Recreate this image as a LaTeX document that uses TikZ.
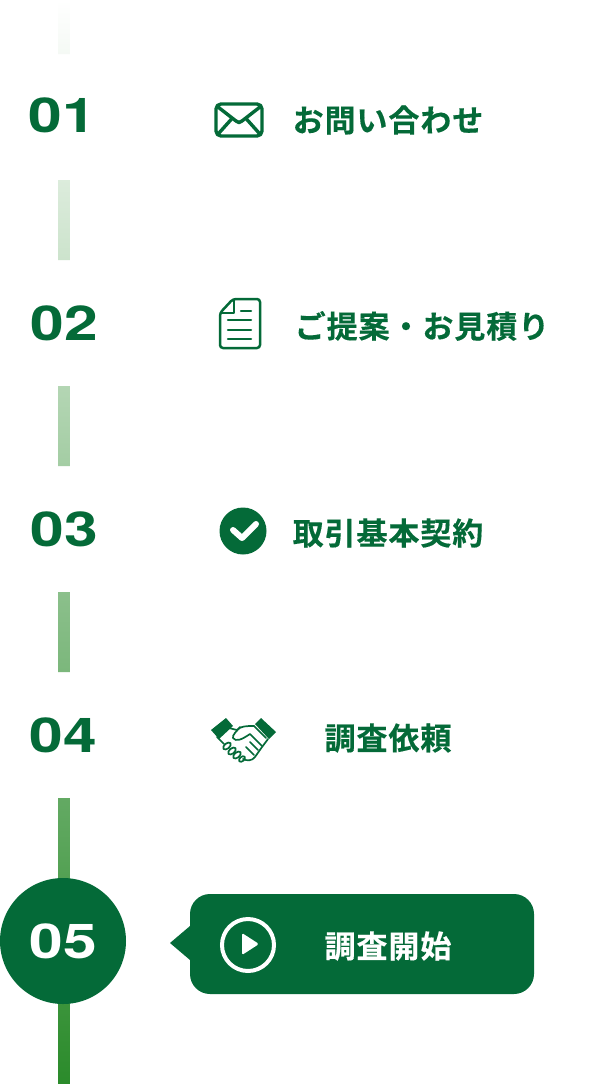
\documentclass[tikz,border=0pt]{standalone}
\usepackage{fontspec}
\setmainfont{Noto Sans CJK JP Bold}
\newfontfamily\cjkb[LetterSpace=3,FakeBold=0.35]{Noto Sans CJK JP Bold}
\newfontfamily\numf{TeX Gyre Heros Bold}
\definecolor{brand}{HTML}{046A38}
\definecolor{linetop}{HTML}{FFFFFF}
\definecolor{linebot}{HTML}{2B8B2B}
\tikzset{
  x=1pt,y=-1pt,
  steplabel/.style={anchor=center,inner sep=0pt,text=brand,font=\cjkb\fontsize{31}{31}\selectfont},
  stepnum/.style={anchor=center,inner sep=0pt,text=brand,font=\numf\fontsize{48}{48}\selectfont,xscale=1.26},
  icon/.style={draw=brand,line width=3.4pt,line join=round,line cap=round},
  thinicon/.style={draw=brand,line width=2.5pt,line join=round,line cap=round},
  hand/.style={draw=brand,line width=1.7pt,line join=round,line cap=round}
}
\begin{document}
\begin{tikzpicture}
\useasboundingbox (0,0) rectangle (604,1084);
\fill[white] (0,0) rectangle (604,1084);
\begin{scope}
\clip (58,0) rectangle (70,54) (58,180) rectangle (70,260) (58,386) rectangle (70,466) (58,592) rectangle (70,672) (58,798) rectangle (70,1084);
\shade[top color=linetop,bottom color=linebot] (58,0) rectangle (70,1084);
\end{scope}
\node[stepnum] (n1) at (62.5,115.5) {01};
\node[stepnum] (n2) at (64,323.5) {02};
\node[stepnum] (n3) at (64,529.5) {03};
\node[stepnum] (n4) at (63.5,735.5) {04};
\node[circle,fill=brand,minimum size=126pt,inner sep=0pt] (c5) at (63,941) {};
\node[stepnum,text=white] (n5) at (63,941.5) {05};
\node[steplabel] (t1) at (388,120) {お問い合わせ};
\node[steplabel] (t2) at (422,326) {ご提案・お見積り};
\node[steplabel] (t3) at (388,533) {取引基本契約};
\node[steplabel] (t4) at (388,738) {調査依頼};
% envelope
\draw[icon,rounded corners=5pt] (216,104) rectangle (262,136);
\draw[icon] (218,107) -- (236,121) .. controls (238,123) and (240,123) .. (242,121) -- (260,107);
\draw[icon] (219,133) -- (232,118.5) (259,133) -- (246,118.5);
% document
\draw[thinicon,rounded corners=3pt] (233,299) -- (260,299) -- (260,348) -- (220,348) -- (220,313) -- cycle;
\draw[thinicon] (234,300) -- (234,313) -- (221,313);
\draw[thinicon] (241,311) -- (251,311) (228,320) -- (251,320) (228,330) -- (251,330) (228,339) -- (251,339);
% check
\fill[brand] (243,531) circle (23.5);
\draw[draw=white,line width=6pt,line cap=round,line join=round] (233,530) -- (242,538) -- (256,524);
% handshake
\fill[brand] (211,730) -- (226,718) -- (233,726) -- (219,739) -- cycle;
\fill[brand] (276,732) -- (261,718) -- (255,724) -- (269,739) -- cycle;
\draw[hand] (229,728) -- (237,730) .. controls (241,726) and (246,726) .. (254,726);
\draw[hand] (254,726) -- (266,738);
\draw[hand] (240,727) .. controls (237,731) and (232,735) .. (233,738) .. controls (236,742) and (241,740) .. (250,734) -- (262,746);
\draw[hand] (268,739) -- (262,747) -- (255,757) .. controls (252,761) and (247,761) .. (243,759);
\draw[hand] (217,737) -- (224,744);
\draw[hand] (258,750) -- (250,742) (254,755) -- (246,747);
\draw[hand,rotate around={40:(227,746)}] (227,746) ellipse (4.5 and 2.6);
\draw[hand,rotate around={40:(232,751)}] (232,751) ellipse (4.5 and 2.6);
\draw[hand,rotate around={40:(237,755)}] (237,755) ellipse (4.5 and 2.6);
\draw[hand,rotate around={40:(242,759)}] (242,759) ellipse (3.5 and 2.2);
% bubble
\fill[brand,rounded corners=20pt] (190,894) rectangle (534,994);
\fill[brand] (190,926) -- (170,943) -- (190,960) -- cycle;
\draw[white,line width=4pt] (248,945) circle (26);
\fill[white,rounded corners=1.5pt] (242,933) -- (259,944) -- (242,955) -- cycle;
\node[steplabel,text=white] (t5) at (388,946) {調査開始};
\end{tikzpicture}
\end{document}
